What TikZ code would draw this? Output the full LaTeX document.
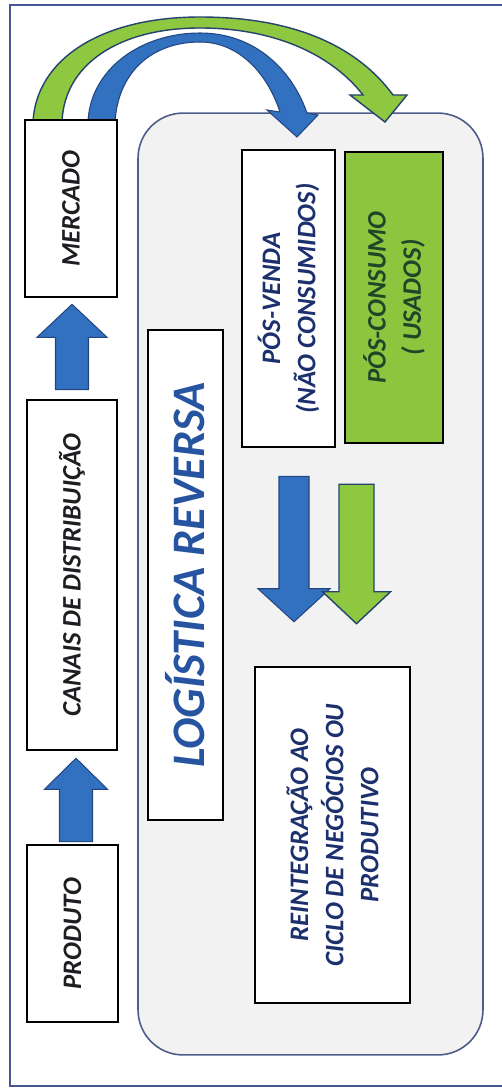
\documentclass[tikz,border=0pt]{standalone}
\usepackage{fontspec}
\setmainfont{Carlito}
\usetikzlibrary{calc}

\definecolor{framecol}{RGB}{72,86,150}
\definecolor{panelfill}{RGB}{242,242,243}
\definecolor{panelline}{RGB}{78,92,140}
\definecolor{arrblue}{RGB}{50,112,192}
\definecolor{arrblueline}{RGB}{36,70,128}
\definecolor{arrgreen}{RGB}{141,200,64}
\definecolor{arrgreenline}{RGB}{38,66,110}
\definecolor{boxgreen}{RGB}{140,198,62}
\definecolor{txtdark}{RGB}{30,30,34}
\definecolor{txtnavy}{RGB}{28,48,110}
\definecolor{txtgreen}{RGB}{30,70,40}
\definecolor{titleblue}{RGB}{38,84,160}

\tikzset{
  frameline/.style={draw=framecol, line width=1.1pt},
  panel/.style={draw=panelline, line width=0.9pt, fill=panelfill,
    rounded corners=0.9cm, inner sep=0pt},
  box/.style={draw=black, line width=1.5pt, fill=white, rotate=90,
    inner sep=0pt, align=center, text=txtdark,
    font=\fontsize{15.2}{20}\selectfont\bfseries\itshape},
  bluearr/.style={fill=arrblue, draw=arrblueline, line width=0.6pt, line join=miter},
  greenarr/.style={fill=arrgreen, draw=arrgreenline, line width=0.8pt, line join=miter}
}

% straight block arrow: style, tail, tip, head length, shaft half width, head half width
\newcommand{\blockarrow}[6]{%
  \coordinate (ba-hb) at ($#3!#4!#2$);
  \draw[#1] #3 -- ($(ba-hb)!#6!90:#3$) -- ($(ba-hb)!#5!90:#3$)
    -- ($#2!#5!90:#3$) -- ($#2!#5!-90:#3$)
    -- ($(ba-hb)!#5!-90:#3$) -- ($(ba-hb)!#6!-90:#3$) -- cycle;}

\begin{document}
\begin{tikzpicture}[x=0.02cm, y=-0.02cm]
\useasboundingbox (0,0) rectangle (501,1088);
\fill[white] (0,0) rectangle (501,1088);

% outer frame (open on the right)
\draw[frameline] (505,5) -- (10,5) -- (10,1086) -- (505,1086);

% reverse logistics panel
\node[panel, minimum width=6.9cm, minimum height=18.84cm] (panel) at (310.5,584) {};

% curved arrows from the market into the reverse flows
\draw[greenarr] (33,122) .. controls (36,60) and (100,17) .. (200,17)
  .. controls (300,17) and (360,50) .. (393,95) -- (407,95) -- (385,122) -- (350,95) -- (363,95)
  .. controls (332,55) and (275,28) .. (200,28)
  .. controls (118,28) and (64,65) .. (62,122) -- cycle;
\draw[bluearr] (88,122) .. controls (90,70) and (140,33) .. (200,33)
  .. controls (255,33) and (292,70) .. (307,113) -- (318,115) -- (297,137) -- (267,110) -- (280,112)
  .. controls (268,75) and (240,42) .. (200,42)
  .. controls (152,42) and (118,72) .. (115,122) -- cycle;

% forward chain
\node[box, minimum width=3.54cm, minimum height=1.84cm] (mercado) at (71,208.5) {MERCADO};
\node[box, minimum width=7cm, minimum height=1.8cm] (canais) at (72,575) {CANAIS DE DISTRIBUIÇÃO};
\node[box, minimum width=3.54cm, minimum height=1.82cm] (produto) at (72.5,933.5) {PRODUTO};

% reverse chain
\node[box, minimum width=9.8cm, minimum height=1.5cm, text=titleblue,
  font=\fontsize{26.5}{30}\selectfont\bfseries\itshape] (logrev) at (185.5,575) {LOGÍSTICA REVERSA};
\node[box, minimum width=5.94cm, minimum height=1.86cm, text=txtnavy] (posvenda) at (288.5,298.5)
  {PÓS-VENDA\\(NÃO CONSUMIDOS)};
\node[box, fill=boxgreen, minimum width=5.82cm, minimum height=1.96cm, text=txtgreen] (posconsumo) at (394,297.5)
  {PÓS-CONSUMO\\( USADOS)};
\node[box, minimum width=6.72cm, minimum height=3.1cm, text=txtnavy] (reint) at (332.5,835)
  {REINTEGRAÇÃO AO\\CICLO DE NEGÓCIOS OU\\PRODUTIVO};

% up arrows along the forward chain
\coordinate (a1tail) at ($(canais.east)+(0,-9)$);
\coordinate (a1tip)  at ($(mercado.west)+(1,6)$);
\blockarrow{bluearr}{(a1tail)}{(a1tip)}{0.66cm}{0.33cm}{0.7cm}
\coordinate (a2tail) at ($(produto.east)+(3.5,-2)$);
\coordinate (a2tip)  at ($(canais.west)+(4,7)$);
\blockarrow{bluearr}{(a2tail)}{(a2tip)}{0.62cm}{0.33cm}{0.63cm}

% down arrows towards reintegration
\coordinate (d1tail) at ($(posvenda.west)+(5.5,28)$);
\coordinate (d1tip)  at ($(reint.east)+(-38.5,-44)$);
\blockarrow{bluearr}{(d1tail)}{(d1tip)}{0.66cm}{0.3cm}{0.72cm}
\coordinate (d2tail) at ($(posconsumo.west)+(-37.5,40)$);
\coordinate (d2tip)  at ($(reint.east)+(24,-42)$);
\blockarrow{greenarr}{(d2tail)}{(d2tip)}{0.64cm}{0.35cm}{0.68cm}
\end{tikzpicture}
\end{document}
